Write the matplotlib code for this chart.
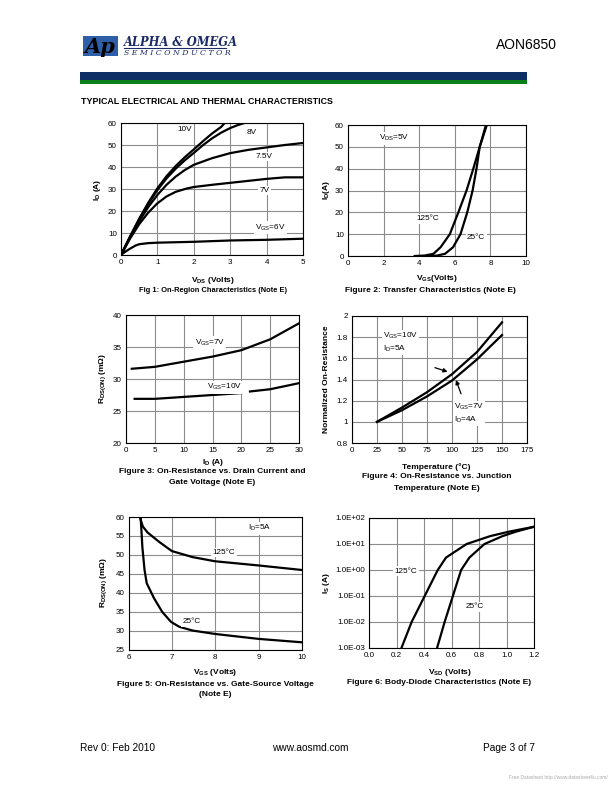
import matplotlib
matplotlib.use("Agg")
import matplotlib.pyplot as plt
from matplotlib.patches import Rectangle
import numpy as np

plt.rcParams['font.family'] = ['Liberation Sans', 'DejaVu Sans']
plt.rcParams['mathtext.fontset'] = 'custom'
plt.rcParams['mathtext.rm'] = 'Liberation Sans'
plt.rcParams['mathtext.it'] = 'Liberation Sans:italic'
plt.rcParams['mathtext.bf'] = 'Liberation Sans:bold'

# ---------------- data ----------------
# Fig 1: On-region characteristics (VDS, ID)
f1_v10_x = [0, 0.25, 0.5, 0.75, 1.0, 1.25, 1.5, 1.75, 2.0, 2.25, 2.5, 2.75, 2.85]
f1_v10_y = [0, 8.5, 16.5, 23.8, 30.3, 35.8, 40.4, 44.4, 48.0, 51.7, 55.2, 58.2, 60]
f1_v8_x = [0, 0.25, 0.5, 0.75, 1.0, 1.25, 1.5, 1.75, 2.0, 2.25, 2.5, 2.75, 3.0, 3.2, 3.39]
f1_v8_y = [0, 8.3, 16.2, 23.2, 29.5, 34.8, 39.2, 43.0, 46.4, 49.9, 53.0, 55.6, 57.7, 59.0, 60]
f1_v75_x = [0, 0.25, 0.5, 0.75, 1.0, 1.25, 1.5, 1.75, 2.0, 2.5, 3.0, 3.5, 4.0, 4.5, 5.0]
f1_v75_y = [0, 8.0, 15.3, 21.8, 27.3, 31.9, 35.6, 38.6, 41.0, 44.0, 46.3, 47.8, 48.9, 50.0, 50.9]
f1_v7_x = [0, 0.25, 0.5, 0.75, 1.0, 1.25, 1.5, 1.8, 2.0, 2.5, 3.0, 3.5, 4.0, 4.5, 5.0]
f1_v7_y = [0, 7.5, 14.0, 19.3, 23.5, 26.6, 28.7, 30.2, 30.9, 31.9, 32.8, 33.7, 34.6, 35.3, 35.3]
f1_v6_x = [0, 0.1, 0.25, 0.4, 0.5, 0.75, 1.0, 1.5, 2.0, 3.0, 4.0, 5.0]
f1_v6_y = [0, 1.3, 2.9, 4.3, 4.9, 5.4, 5.6, 5.8, 6.0, 6.6, 6.9, 7.4]

# Fig 2: Transfer characteristics (ID vs VGS)
f2_i = [0, 0.2, 1, 4, 10, 20, 30, 40, 50, 60]
f2_125_vgs = [3.75, 4.3, 4.8, 5.2, 5.72, 6.2, 6.66, 7.04, 7.4, 7.8]
f2_25_vgs = [4.6, 5.0, 5.45, 5.9, 6.32, 6.7, 7.0, 7.22, 7.4, 7.75]

# Fig 3: On-resistance vs drain current
f3_7v_x = [1, 5, 10, 15, 20, 25, 30]
f3_7v_y = [31.6, 31.9, 32.7, 33.5, 34.5, 36.2, 38.7]
f3_10a_x = [1.5, 5, 10, 15, 20]
f3_10a_y = [26.9, 26.9, 27.2, 27.5, 27.8]
f3_10b_x = [21.5, 25, 30]
f3_10b_y = [28.05, 28.4, 29.35]

# Fig 4: Normalized on-resistance vs temperature
f4_t = [25, 50, 75, 100, 125, 150]
f4_10v = [1.0, 1.135, 1.28, 1.45, 1.66, 1.94]
f4_7v = [1.0, 1.11, 1.24, 1.39, 1.59, 1.82]

# Fig 5: On-resistance vs gate-source voltage
f5_125_x = [6.26, 6.33, 6.44, 6.71, 7.0, 7.48, 8.0, 9.0, 10.0]
f5_125_y = [60, 57.5, 55.9, 53.4, 51.0, 49.4, 48.3, 47.2, 46.0]
f5_25_x = [6.28, 6.32, 6.37, 6.42, 6.48, 6.59, 6.78, 6.98, 7.17, 7.48, 8.0, 9.0, 10.0]
f5_25_y = [60, 52, 46, 42.5, 41.1, 38.5, 34.9, 32.3, 31.0, 30.0, 29.1, 27.8, 26.9]

# Fig 6: Body-diode characteristics
f6_is = [1e-3, 1e-2, 1e-1, 1, 3, 10, 20, 30, 46]
f6_125_v = [0.236, 0.31, 0.405, 0.50, 0.56, 0.71, 0.88, 1.02, 1.2]
f6_25_v = [0.495, 0.55, 0.61, 0.67, 0.73, 0.84, 0.97, 1.07, 1.2]
f6_yticklabels = ["1.0E-03", "1.0E-02", "1.0E-01", "1.0E+00", "1.0E+01", "1.0E+02"]

# ---------------- layout helpers ----------------
W, H = 612, 792
fig = plt.figure(figsize=(W / 100, H / 100), dpi=100)


def ax_px(x0, y0, x1, y1):
    return fig.add_axes([x0 / W, 1 - y1 / H, (x1 - x0) / W, (y1 - y0) / H])


def ftxt(x, y, s, **kw):
    kw.setdefault('va', 'center')
    return fig.text(x / W, 1 - y / H, s, **kw)


GRID = '#8c8c8c'
LW = 1.6
TICK_FS = 5.8
LAB_FS = 6
ANN_FS = 5.9


def style(ax):
    ax.grid(True, color=GRID, lw=0.8)
    ax.set_axisbelow(True)
    ax.tick_params(length=0, labelsize=TICK_FS, pad=3)
    for s in ax.spines.values():
        s.set_color('black')
        s.set_linewidth(0.8)


WB = dict(facecolor='white', edgecolor='none', pad=1.0)

# ---------------- header ----------------
fig.patches.append(Rectangle((83 / W, 1 - 56 / H), 35 / W, 20 / H,
                             transform=fig.transFigure, facecolor='#2f5fa8',
                             edgecolor='none'))
ftxt(100, 47, 'Ap', fontsize=15, family='DejaVu Serif', style='italic',
     fontweight='bold', color='black', ha='center')
ftxt(124, 42, 'ALPHA & OMEGA', fontsize=8.3, family='DejaVu Serif',
     style='italic', fontweight='bold', color='#1c2a66', ha='left')
fig.add_artist(plt.Line2D([124 / W, 226 / W], [1 - 47.5 / H, 1 - 47.5 / H],
                          color='#1c2a66', lw=0.8))
ftxt(124, 53, 'S E M I C O N D U C T O R', fontsize=5.6, family='DejaVu Serif',
     style='italic', color='#1c2a66', ha='left')
ftxt(557, 45, 'AON6850', fontsize=10, ha='right')
fig.patches.append(Rectangle((80 / W, 1 - 80 / H), 447 / W, 8 / H,
                             transform=fig.transFigure, facecolor='#0d2f66',
                             edgecolor='none'))
fig.patches.append(Rectangle((80 / W, 1 - 84 / H), 447 / W, 4 / H,
                             transform=fig.transFigure, facecolor='#0a7f1a',
                             edgecolor='none'))
ftxt(81, 101, 'TYPICAL ELECTRICAL AND THERMAL CHARACTERISTICS', fontsize=6.4,
     fontweight='bold', ha='left')

# ---------------- Fig 1 ----------------
ax1 = ax_px(121, 123, 303, 255)
style(ax1)
for xs, ys in [(f1_v10_x, f1_v10_y), (f1_v8_x, f1_v8_y), (f1_v75_x, f1_v75_y),
               (f1_v7_x, f1_v7_y), (f1_v6_x, f1_v6_y)]:
    ax1.plot(xs, ys, color='black', lw=LW, solid_capstyle='butt')
ax1.set_xlim(0, 5)
ax1.set_ylim(0, 60)
ax1.set_xticks(range(0, 6))
ax1.set_yticks(range(0, 61, 10))
ax1.text(1.74, 57.0, '10V', fontsize=ANN_FS, ha='center', va='center', bbox=WB)
ax1.text(3.58, 55.6, '8V', fontsize=ANN_FS, ha='center', va='center', bbox=WB)
ax1.text(3.94, 44.8, '7.5V', fontsize=ANN_FS, ha='center', va='center', bbox=WB)
ax1.text(3.94, 29.3, '7V', fontsize=ANN_FS, ha='center', va='center', bbox=WB)
ax1.text(4.1, 12.4, 'V$\\mathregular{_{GS}}$=6V', fontsize=ANN_FS, ha='center',
         va='center', bbox=WB)
ftxt(213, 280, 'V$\\mathregular{_{DS}}$ (Volts)', fontsize=LAB_FS, fontweight='bold', ha='center')
ftxt(213, 291, 'Fig 1: On-Region Characteristics (Note E)', fontsize=5.4,
     fontweight='bold', ha='center')
ftxt(98, 190, 'I$\\mathregular{_{D}}$ (A)', fontsize=LAB_FS, fontweight='bold',
     ha='center', rotation=90)

# ---------------- Fig 2 ----------------
ax2 = ax_px(348, 125, 526, 256)
style(ax2)
ax2.plot(f2_125_vgs, f2_i, color='black', lw=LW)
ax2.plot(f2_25_vgs, f2_i, color='black', lw=LW)
ax2.set_xlim(0, 10)
ax2.set_ylim(0, 60)
ax2.set_xticks(range(0, 11, 2))
ax2.set_yticks(range(0, 61, 10))
ax2.text(2.6, 53.9, 'V$\\mathregular{_{DS}}$=5V', fontsize=ANN_FS, ha='center',
         va='center', bbox=WB)
ax2.text(4.5, 17.1, '125°C', fontsize=ANN_FS, ha='center', va='center', bbox=WB)
ax2.text(7.2, 8.7, '25°C', fontsize=ANN_FS, ha='center', va='center', bbox=WB)
ftxt(437, 279, 'V$\\mathregular{_{GS}}$(Volts)', fontsize=LAB_FS, fontweight='bold', ha='center')
ftxt(430, 290, 'Figure 2: Transfer Characteristics (Note E)', fontsize=LAB_FS,
     fontweight='bold', ha='center')
ftxt(326, 190, 'I$\\mathregular{_{D}}$(A)', fontsize=LAB_FS, fontweight='bold',
     ha='center', rotation=90)

# ---------------- Fig 3 ----------------
ax3 = ax_px(126, 315, 299, 443)
style(ax3)
ax3.plot(f3_7v_x, f3_7v_y, color='black', lw=LW)
ax3.plot(f3_10a_x, f3_10a_y, color='black', lw=LW)
ax3.plot(f3_10b_x, f3_10b_y, color='black', lw=LW)
ax3.set_xlim(0, 30)
ax3.set_ylim(20, 40)
ax3.set_xticks(range(0, 31, 5))
ax3.set_yticks(range(20, 41, 5))
ax3.text(14.5, 35.7, 'V$\\mathregular{_{GS}}$=7V', fontsize=ANN_FS, ha='center',
         va='center', bbox=WB)
ax3.text(17.1, 28.7, 'V$\\mathregular{_{GS}}$=10V', fontsize=ANN_FS, ha='center',
         va='center', bbox=WB)
ftxt(213, 462, 'I$\\mathregular{_{D}}$ (A)', fontsize=LAB_FS, fontweight='bold', ha='center')
ftxt(212, 472, 'Figure 3: On-Resistance vs. Drain Current and', fontsize=LAB_FS,
     fontweight='bold', ha='center')
ftxt(212, 482, 'Gate Voltage (Note E)', fontsize=LAB_FS, fontweight='bold', ha='center')
ftxt(103, 379, 'R$\\mathregular{_{DS(ON)}}$ (m\u03a9)', fontsize=LAB_FS,
     fontweight='bold', ha='center', rotation=90)

# ---------------- Fig 4 ----------------
ax4 = ax_px(352, 316, 527, 443)
style(ax4)
ax4.plot(f4_t, f4_10v, color='black', lw=LW)
ax4.plot(f4_t, f4_7v, color='black', lw=LW)
ax4.set_xlim(0, 175)
ax4.set_ylim(0.8, 2.0)
ax4.set_xticks(range(0, 176, 25))
ax4.set_yticks([0.8, 1.0, 1.2, 1.4, 1.6, 1.8, 2.0])
ax4.set_yticklabels(['0.8', '1', '1.2', '1.4', '1.6', '1.8', '2'])
ax4.text(31, 1.75, 'V$\\mathregular{_{GS}}$=10V\nI$\\mathregular{_{D}}$=5A',
         fontsize=ANN_FS, ha='left', va='center', linespacing=1.3, bbox=WB)
ax4.text(102, 1.08, 'V$\\mathregular{_{GS}}$=7V\nI$\\mathregular{_{D}}$=4A',
         fontsize=ANN_FS, ha='left', va='center', linespacing=1.3, bbox=WB)
ax4.annotate('', xy=(98.3, 1.465), xytext=(80.3, 1.52),
             arrowprops=dict(arrowstyle='-|>', color='black', lw=0.9,
                             mutation_scale=6))
ax4.annotate('', xy=(103, 1.42), xytext=(110, 1.24),
             arrowprops=dict(arrowstyle='-|>', color='black', lw=0.9,
                             mutation_scale=6))
ftxt(436, 467, 'Temperature (°C)', fontsize=LAB_FS, fontweight='bold', ha='center')
ftxt(437, 477, 'Figure 4: On-Resistance vs. Junction', fontsize=LAB_FS,
     fontweight='bold', ha='center')
ftxt(437, 488, 'Temperature (Note E)', fontsize=LAB_FS, fontweight='bold', ha='center')
ftxt(326, 379, 'Normalized On-Resistance', fontsize=LAB_FS, fontweight='bold',
     ha='center', rotation=90)

# ---------------- Fig 5 ----------------
ax5 = ax_px(128.5, 517, 302, 649.5)
style(ax5)
ax5.plot(f5_125_x, f5_125_y, color='black', lw=LW)
ax5.plot(f5_25_x, f5_25_y, color='black', lw=LW)
ax5.set_xlim(6, 10)
ax5.set_ylim(25, 60)
ax5.set_xticks(range(6, 11))
ax5.set_yticks(range(25, 61, 5))
ax5.text(9.03, 57.0, 'I$\\mathregular{_{D}}$=5A', fontsize=ANN_FS, ha='center',
         va='center', bbox=WB)
ax5.text(8.2, 50.6, '125°C', fontsize=ANN_FS, ha='center', va='center', bbox=WB)
ax5.text(7.46, 32.3, '25°C', fontsize=ANN_FS, ha='center', va='center', bbox=WB)
ftxt(215, 672, 'V$\\mathregular{_{GS}}$ (Volts)', fontsize=LAB_FS, fontweight='bold', ha='center')
ftxt(215, 684, 'Figure 5: On-Resistance vs. Gate-Source Voltage', fontsize=LAB_FS,
     fontweight='bold', ha='center')
ftxt(215, 694, '(Note E)', fontsize=LAB_FS, fontweight='bold', ha='center')
ftxt(104, 583, 'R$\\mathregular{_{DS(ON)}}$ (m\u03a9)', fontsize=LAB_FS,
     fontweight='bold', ha='center', rotation=90)

# ---------------- Fig 6 ----------------
ax6 = ax_px(369, 518, 534, 648)
style(ax6)
ax6.semilogy(f6_125_v, f6_is, color='black', lw=LW)
ax6.semilogy(f6_25_v, f6_is, color='black', lw=LW)
ax6.set_xlim(0, 1.2)
ax6.set_ylim(1e-3, 1e2)
ax6.set_xticks([0, 0.2, 0.4, 0.6, 0.8, 1.0, 1.2])
ax6.set_xticklabels(['0.0', '0.2', '0.4', '0.6', '0.8', '1.0', '1.2'])
ax6.set_yticks([1e-3, 1e-2, 1e-1, 1, 10, 100])
ax6.set_yticklabels(f6_yticklabels)
ax6.minorticks_off()
ax6.text(0.27, 0.9, '125°C', fontsize=ANN_FS, ha='center', va='center', bbox=WB)
ax6.text(0.77, 0.039, '25°C', fontsize=ANN_FS, ha='center', va='center', bbox=WB)
ftxt(450, 672, 'V$\\mathregular{_{SD}}$ (Volts)', fontsize=LAB_FS, fontweight='bold', ha='center')
ftxt(439, 682, 'Figure 6: Body-Diode Characteristics (Note E)', fontsize=LAB_FS,
     fontweight='bold', ha='center')
ftxt(327, 583, 'I$\\mathregular{_{S}}$ (A)', fontsize=LAB_FS, fontweight='bold',
     ha='center', rotation=90)

# ---------------- footer ----------------
ftxt(80, 748, 'Rev 0: Feb 2010', fontsize=7.3, ha='left')
ftxt(310, 748, 'www.aosmd.com', fontsize=7.3, ha='center')
ftxt(483, 748, 'Page 3 of 7', fontsize=7.3, ha='left')
ftxt(608, 778, 'Free Datasheet http://www.datasheet4u.com/', fontsize=3.5,
     color='#aaaaaa', ha='right')

fig.savefig('out.png', dpi=100)
